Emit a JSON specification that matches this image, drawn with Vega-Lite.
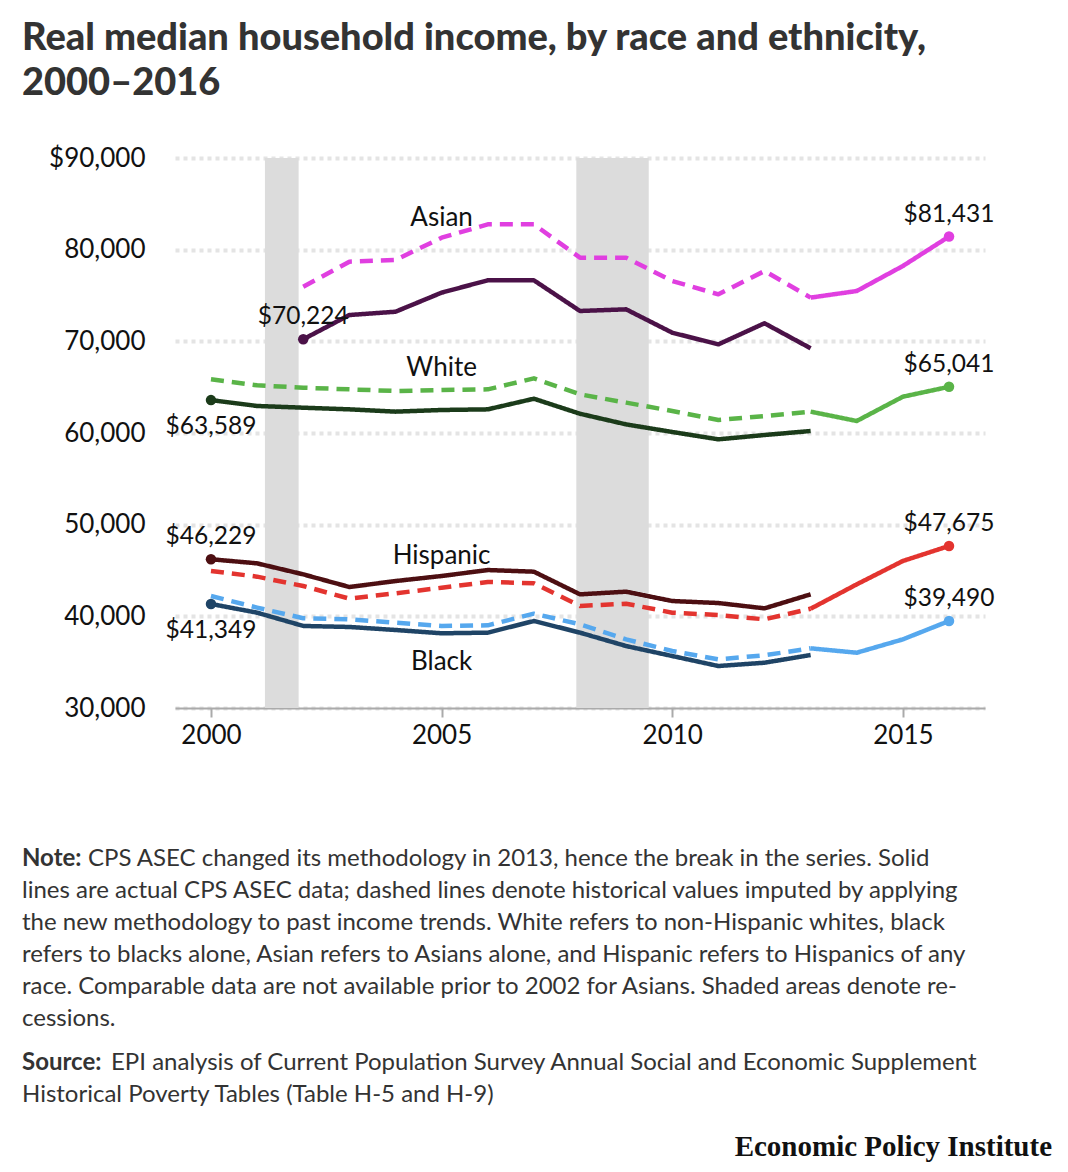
{
  "$schema": "https://vega.github.io/schema/vega-lite/v6.json",
  "padding": {"left": 22, "top": 20, "right": 10, "bottom": 10},
  "bounds": "flush",
  "spacing": 151,
  "title": {
    "text": ["Real median household income, by race and ethnicity,", "2000–2016"],
    "anchor": "start",
    "font": "Lato",
    "fontSize": 38,
    "fontWeight": 900,
    "color": "#333333",
    "lineHeight": 45,
    "offset": 42
  },
  "datasets": {
    "income": [
      {"series": "Asian actual", "kind": "actual", "year": 2002, "value": 70224},
      {"series": "Asian actual", "kind": "actual", "year": 2003, "value": 72870},
      {"series": "Asian actual", "kind": "actual", "year": 2004, "value": 73230},
      {"series": "Asian actual", "kind": "actual", "year": 2005, "value": 75310},
      {"series": "Asian actual", "kind": "actual", "year": 2006, "value": 76660},
      {"series": "Asian actual", "kind": "actual", "year": 2007, "value": 76660},
      {"series": "Asian actual", "kind": "actual", "year": 2008, "value": 73310},
      {"series": "Asian actual", "kind": "actual", "year": 2009, "value": 73490},
      {"series": "Asian actual", "kind": "actual", "year": 2010, "value": 70940},
      {"series": "Asian actual", "kind": "actual", "year": 2011, "value": 69670},
      {"series": "Asian actual", "kind": "actual", "year": 2012, "value": 71970},
      {"series": "Asian actual", "kind": "actual", "year": 2013, "value": 69240},
      {"series": "Asian imputed", "kind": "imputed", "year": 2002, "value": 75960},
      {"series": "Asian imputed", "kind": "imputed", "year": 2003, "value": 78690},
      {"series": "Asian imputed", "kind": "imputed", "year": 2004, "value": 78870},
      {"series": "Asian imputed", "kind": "imputed", "year": 2005, "value": 81310},
      {"series": "Asian imputed", "kind": "imputed", "year": 2006, "value": 82760},
      {"series": "Asian imputed", "kind": "imputed", "year": 2007, "value": 82760},
      {"series": "Asian imputed", "kind": "imputed", "year": 2008, "value": 79130},
      {"series": "Asian imputed", "kind": "imputed", "year": 2009, "value": 79130},
      {"series": "Asian imputed", "kind": "imputed", "year": 2010, "value": 76580},
      {"series": "Asian imputed", "kind": "imputed", "year": 2011, "value": 75130},
      {"series": "Asian imputed", "kind": "imputed", "year": 2012, "value": 77670},
      {"series": "Asian imputed", "kind": "imputed", "year": 2013, "value": 74770},
      {"series": "Asian new", "kind": "new", "year": 2013, "value": 74770},
      {"series": "Asian new", "kind": "new", "year": 2014, "value": 75490},
      {"series": "Asian new", "kind": "new", "year": 2015, "value": 78220},
      {"series": "Asian new", "kind": "new", "year": 2016, "value": 81431},
      {"series": "White actual", "kind": "actual", "year": 2000, "value": 63589},
      {"series": "White actual", "kind": "actual", "year": 2001, "value": 62950},
      {"series": "White actual", "kind": "actual", "year": 2002, "value": 62760},
      {"series": "White actual", "kind": "actual", "year": 2003, "value": 62580},
      {"series": "White actual", "kind": "actual", "year": 2004, "value": 62330},
      {"series": "White actual", "kind": "actual", "year": 2005, "value": 62510},
      {"series": "White actual", "kind": "actual", "year": 2006, "value": 62580},
      {"series": "White actual", "kind": "actual", "year": 2007, "value": 63740},
      {"series": "White actual", "kind": "actual", "year": 2008, "value": 62100},
      {"series": "White actual", "kind": "actual", "year": 2009, "value": 60940},
      {"series": "White actual", "kind": "actual", "year": 2010, "value": 60110},
      {"series": "White actual", "kind": "actual", "year": 2011, "value": 59310},
      {"series": "White actual", "kind": "actual", "year": 2012, "value": 59780},
      {"series": "White actual", "kind": "actual", "year": 2013, "value": 60220},
      {"series": "White imputed", "kind": "imputed", "year": 2000, "value": 65860},
      {"series": "White imputed", "kind": "imputed", "year": 2001, "value": 65200},
      {"series": "White imputed", "kind": "imputed", "year": 2002, "value": 64940},
      {"series": "White imputed", "kind": "imputed", "year": 2003, "value": 64760},
      {"series": "White imputed", "kind": "imputed", "year": 2004, "value": 64580},
      {"series": "White imputed", "kind": "imputed", "year": 2005, "value": 64690},
      {"series": "White imputed", "kind": "imputed", "year": 2006, "value": 64760},
      {"series": "White imputed", "kind": "imputed", "year": 2007, "value": 65960},
      {"series": "White imputed", "kind": "imputed", "year": 2008, "value": 64220},
      {"series": "White imputed", "kind": "imputed", "year": 2009, "value": 63310},
      {"series": "White imputed", "kind": "imputed", "year": 2010, "value": 62400},
      {"series": "White imputed", "kind": "imputed", "year": 2011, "value": 61420},
      {"series": "White imputed", "kind": "imputed", "year": 2012, "value": 61850},
      {"series": "White imputed", "kind": "imputed", "year": 2013, "value": 62330},
      {"series": "White new", "kind": "new", "year": 2013, "value": 62330},
      {"series": "White new", "kind": "new", "year": 2014, "value": 61310},
      {"series": "White new", "kind": "new", "year": 2015, "value": 63960},
      {"series": "White new", "kind": "new", "year": 2016, "value": 65041},
      {"series": "Hispanic actual", "kind": "actual", "year": 2000, "value": 46229},
      {"series": "Hispanic actual", "kind": "actual", "year": 2001, "value": 45780},
      {"series": "Hispanic actual", "kind": "actual", "year": 2002, "value": 44580},
      {"series": "Hispanic actual", "kind": "actual", "year": 2003, "value": 43200},
      {"series": "Hispanic actual", "kind": "actual", "year": 2004, "value": 43850},
      {"series": "Hispanic actual", "kind": "actual", "year": 2005, "value": 44400},
      {"series": "Hispanic actual", "kind": "actual", "year": 2006, "value": 45050},
      {"series": "Hispanic actual", "kind": "actual", "year": 2007, "value": 44870},
      {"series": "Hispanic actual", "kind": "actual", "year": 2008, "value": 42400},
      {"series": "Hispanic actual", "kind": "actual", "year": 2009, "value": 42690},
      {"series": "Hispanic actual", "kind": "actual", "year": 2010, "value": 41670},
      {"series": "Hispanic actual", "kind": "actual", "year": 2011, "value": 41450},
      {"series": "Hispanic actual", "kind": "actual", "year": 2012, "value": 40870},
      {"series": "Hispanic actual", "kind": "actual", "year": 2013, "value": 42400},
      {"series": "Hispanic imputed", "kind": "imputed", "year": 2000, "value": 44950},
      {"series": "Hispanic imputed", "kind": "imputed", "year": 2001, "value": 44330},
      {"series": "Hispanic imputed", "kind": "imputed", "year": 2002, "value": 43310},
      {"series": "Hispanic imputed", "kind": "imputed", "year": 2003, "value": 41930},
      {"series": "Hispanic imputed", "kind": "imputed", "year": 2004, "value": 42510},
      {"series": "Hispanic imputed", "kind": "imputed", "year": 2005, "value": 43120},
      {"series": "Hispanic imputed", "kind": "imputed", "year": 2006, "value": 43750},
      {"series": "Hispanic imputed", "kind": "imputed", "year": 2007, "value": 43600},
      {"series": "Hispanic imputed", "kind": "imputed", "year": 2008, "value": 41130},
      {"series": "Hispanic imputed", "kind": "imputed", "year": 2009, "value": 41380},
      {"series": "Hispanic imputed", "kind": "imputed", "year": 2010, "value": 40400},
      {"series": "Hispanic imputed", "kind": "imputed", "year": 2011, "value": 40150},
      {"series": "Hispanic imputed", "kind": "imputed", "year": 2012, "value": 39670},
      {"series": "Hispanic imputed", "kind": "imputed", "year": 2013, "value": 40830},
      {"series": "Hispanic new", "kind": "new", "year": 2013, "value": 40830},
      {"series": "Hispanic new", "kind": "new", "year": 2014, "value": 43490},
      {"series": "Hispanic new", "kind": "new", "year": 2015, "value": 46040},
      {"series": "Hispanic new", "kind": "new", "year": 2016, "value": 47675},
      {"series": "Black actual", "kind": "actual", "year": 2000, "value": 41349},
      {"series": "Black actual", "kind": "actual", "year": 2001, "value": 40400},
      {"series": "Black actual", "kind": "actual", "year": 2002, "value": 38950},
      {"series": "Black actual", "kind": "actual", "year": 2003, "value": 38840},
      {"series": "Black actual", "kind": "actual", "year": 2004, "value": 38510},
      {"series": "Black actual", "kind": "actual", "year": 2005, "value": 38150},
      {"series": "Black actual", "kind": "actual", "year": 2006, "value": 38220},
      {"series": "Black actual", "kind": "actual", "year": 2007, "value": 39490},
      {"series": "Black actual", "kind": "actual", "year": 2008, "value": 38220},
      {"series": "Black actual", "kind": "actual", "year": 2009, "value": 36760},
      {"series": "Black actual", "kind": "actual", "year": 2010, "value": 35670},
      {"series": "Black actual", "kind": "actual", "year": 2011, "value": 34580},
      {"series": "Black actual", "kind": "actual", "year": 2012, "value": 34940},
      {"series": "Black actual", "kind": "actual", "year": 2013, "value": 35780},
      {"series": "Black imputed", "kind": "imputed", "year": 2000, "value": 42220},
      {"series": "Black imputed", "kind": "imputed", "year": 2001, "value": 40950},
      {"series": "Black imputed", "kind": "imputed", "year": 2002, "value": 39790},
      {"series": "Black imputed", "kind": "imputed", "year": 2003, "value": 39670},
      {"series": "Black imputed", "kind": "imputed", "year": 2004, "value": 39310},
      {"series": "Black imputed", "kind": "imputed", "year": 2005, "value": 38950},
      {"series": "Black imputed", "kind": "imputed", "year": 2006, "value": 39020},
      {"series": "Black imputed", "kind": "imputed", "year": 2007, "value": 40290},
      {"series": "Black imputed", "kind": "imputed", "year": 2008, "value": 39130},
      {"series": "Black imputed", "kind": "imputed", "year": 2009, "value": 37490},
      {"series": "Black imputed", "kind": "imputed", "year": 2010, "value": 36220},
      {"series": "Black imputed", "kind": "imputed", "year": 2011, "value": 35310},
      {"series": "Black imputed", "kind": "imputed", "year": 2012, "value": 35750},
      {"series": "Black imputed", "kind": "imputed", "year": 2013, "value": 36510},
      {"series": "Black new", "kind": "new", "year": 2013, "value": 36510},
      {"series": "Black new", "kind": "new", "year": 2014, "value": 36030},
      {"series": "Black new", "kind": "new", "year": 2015, "value": 37490},
      {"series": "Black new", "kind": "new", "year": 2016, "value": 39490}
    ],
    "recessions": [
      {"start": 2001.17, "end": 2001.9},
      {"start": 2007.92, "end": 2009.49}
    ],
    "raceLabels": [
      {"race": "Asian", "year": 2005, "value": 83450},
      {"race": "White", "year": 2005, "value": 67090},
      {"race": "Hispanic", "year": 2005, "value": 46580},
      {"race": "Black", "year": 2005, "value": 35020}
    ],
    "notes": [
      {"part": "noteLead", "line": 1, "text": "Note:"},
      {"part": "noteFirst", "line": 1, "text": "CPS ASEC changed its methodology in 2013, hence the break in the series. Solid"},
      {"part": "note", "line": 2, "text": "lines are actual CPS ASEC data; dashed lines denote historical values imputed by applying"},
      {"part": "note", "line": 3, "text": "the new methodology to past income trends. White refers to non-Hispanic whites, black"},
      {"part": "note", "line": 4, "text": "refers to blacks alone, Asian refers to Asians alone, and Hispanic refers to Hispanics of any"},
      {"part": "note", "line": 5, "text": "race. Comparable data are not available prior to 2002 for Asians. Shaded areas denote re-"},
      {"part": "note", "line": 6, "text": "cessions."},
      {"part": "sourceLead", "line": 7, "text": "Source:"},
      {"part": "sourceFirst", "line": 7, "text": "EPI analysis of Current Population Survey Annual Social and Economic Supplement"},
      {"part": "source", "line": 8, "text": "Historical Poverty Tables (Table H-5 and H-9)"},
      {"part": "brand", "line": 10, "text": "Economic Policy Institute"}
    ]
  },
  "vconcat": [
    {
      "width": 810,
      "height": 550,
      "layer": [
        {
          "data": {"name": "recessions"},
          "mark": {"type": "rect", "color": "#dcdcdc"},
          "encoding": {
            "x": {"field": "start", "type": "quantitative",
              "scale": {"domain": [1999.22, 2016.78], "nice": false, "zero": false},
              "axis": {"values": [2000, 2005, 2010, 2015], "format": "d", "title": null, "grid": false,
                "domainColor": "#aaaaaa", "domainWidth": 2, "tickColor": "#aaaaaa", "tickWidth": 2, "tickSize": 9,
                "labelFontSize": 26, "labelColor": "#111111", "labelFont": "Lato", "labelPadding": 5}},
            "x2": {"field": "end"},
            "y": {"datum": 30000, "type": "quantitative",
              "scale": {"domain": [30000, 90000], "nice": false, "zero": false},
              "axis": {"values": [30000, 40000, 50000, 60000, 70000, 80000, 90000],
                "labelExpr": "datum.value == 90000 ? '$90,000' : format(datum.value, ',')",
                "title": null, "domain": false, "ticks": false, "tickSize": 0, "labelPadding": 30,
                "labelFontSize": 26, "labelColor": "#111111", "labelFont": "Lato",
                "grid": true, "gridColor": "#e4e4e4", "gridWidth": 4, "gridDash": [4, 4]}},
            "y2": {"datum": 90000}
          }
        },
        {
          "data": {"name": "income"},
          "mark": {"type": "line", "strokeWidth": 4.5, "strokeJoin": "round"},
          "encoding": {
            "x": {"field": "year", "type": "quantitative", "scale": {"domain": [1999.22, 2016.78], "nice": false, "zero": false}},
            "y": {"field": "value", "type": "quantitative", "scale": {"domain": [30000, 90000], "nice": false, "zero": false}},
            "color": {"field": "series", "type": "nominal", "legend": null,
              "scale": {
                "domain": ["Asian actual", "Asian imputed", "Asian new", "White actual", "White imputed", "White new", "Hispanic actual", "Hispanic imputed", "Hispanic new", "Black actual", "Black imputed", "Black new"],
                "range": ["#4b1248", "#e03fe0", "#e03fe0", "#1b3b1a", "#5ab448", "#5ab448", "#4d0f12", "#e3342f", "#e3342f", "#1f4466", "#56a8ee", "#56a8ee"]}},
            "strokeDash": {"field": "kind", "type": "nominal", "legend": null,
              "scale": {"domain": ["actual", "imputed", "new"], "range": [[1, 0], [13, 8], [1, 0]]}}
          }
        },
        {
          "data": {"name": "income"},
          "transform": [{"filter": "(datum.kind == 'actual' && (datum.year == 2000 || (datum.series == 'Asian actual' && datum.year == 2002))) || (datum.kind == 'new' && datum.year == 2016)"}],
          "mark": {"type": "point", "filled": true, "opacity": 1, "size": 110},
          "encoding": {
            "x": {"field": "year", "type": "quantitative", "scale": {"domain": [1999.22, 2016.78], "nice": false, "zero": false}},
            "y": {"field": "value", "type": "quantitative", "scale": {"domain": [30000, 90000], "nice": false, "zero": false}},
            "color": {"field": "series", "type": "nominal", "legend": null}
          }
        },
        {
          "data": {"name": "income"},
          "transform": [{"filter": "(datum.series == 'Asian actual' && datum.year == 2002) || (datum.series == 'Hispanic actual' && datum.year == 2000) || (datum.kind == 'new' && datum.year == 2016)"}],
          "mark": {"type": "text", "font": "Lato", "fontSize": 24.5, "color": "#111111", "baseline": "middle", "dy": -22},
          "encoding": {
            "x": {"field": "year", "type": "quantitative", "scale": {"domain": [1999.22, 2016.78], "nice": false, "zero": false}},
            "y": {"field": "value", "type": "quantitative", "scale": {"domain": [30000, 90000], "nice": false, "zero": false}},
            "text": {"field": "value", "type": "quantitative", "format": "$,"}
          }
        },
        {
          "data": {"name": "income"},
          "transform": [{"filter": "(datum.series == 'White actual' || datum.series == 'Black actual') && datum.year == 2000"}],
          "mark": {"type": "text", "font": "Lato", "fontSize": 24.5, "color": "#111111", "baseline": "middle", "dy": 27},
          "encoding": {
            "x": {"field": "year", "type": "quantitative", "scale": {"domain": [1999.22, 2016.78], "nice": false, "zero": false}},
            "y": {"field": "value", "type": "quantitative", "scale": {"domain": [30000, 90000], "nice": false, "zero": false}},
            "text": {"field": "value", "type": "quantitative", "format": "$,"}
          }
        },
        {
          "data": {"name": "raceLabels"},
          "mark": {"type": "text", "font": "Lato", "fontSize": 26, "color": "#111111", "baseline": "middle"},
          "encoding": {
            "x": {"field": "year", "type": "quantitative", "scale": {"domain": [1999.22, 2016.78], "nice": false, "zero": false}},
            "y": {"field": "value", "type": "quantitative", "scale": {"domain": [30000, 90000], "nice": false, "zero": false}},
            "text": {"field": "race", "type": "nominal"}
          }
        }
      ]
    },
    {
      "width": 810,
      "height": 288,
      "data": {"name": "notes"},
      "encoding": {
        "y": {"field": "line", "type": "quantitative", "scale": {"domain": [1, 10], "reverse": true, "nice": false, "zero": false}, "axis": null},
        "x": {"value": 0},
        "text": {"field": "text", "type": "nominal"}
      },
      "layer": [
        {"transform": [{"filter": "datum.part == 'noteLead'"}],
         "mark": {"type": "text", "align": "left", "baseline": "middle", "font": "Lato", "fontSize": 24, "fontWeight": "bold", "color": "#333333", "dx": -153}},
        {"transform": [{"filter": "datum.part == 'noteFirst'"}],
         "mark": {"type": "text", "align": "left", "baseline": "middle", "font": "Lato", "fontSize": 24, "color": "#333333", "dx": -87}},
        {"transform": [{"filter": "datum.part == 'note'"}],
         "mark": {"type": "text", "align": "left", "baseline": "middle", "font": "Lato", "fontSize": 24, "color": "#333333", "dx": -153}},
        {"transform": [{"filter": "datum.part == 'sourceLead'"}],
         "mark": {"type": "text", "align": "left", "baseline": "middle", "font": "Lato", "fontSize": 24, "fontWeight": "bold", "color": "#333333", "dx": -153, "dy": 12}},
        {"transform": [{"filter": "datum.part == 'sourceFirst'"}],
         "mark": {"type": "text", "align": "left", "baseline": "middle", "font": "Lato", "fontSize": 24, "color": "#333333", "dx": -64, "dy": 12}},
        {"transform": [{"filter": "datum.part == 'source'"}],
         "mark": {"type": "text", "align": "left", "baseline": "middle", "font": "Lato", "fontSize": 24, "color": "#333333", "dx": -153, "dy": 12}},
        {"transform": [{"filter": "datum.part == 'brand'"}],
         "mark": {"type": "text", "align": "right", "baseline": "middle", "font": "Liberation Serif", "fontSize": 29, "fontWeight": "bold", "color": "#111111", "dx": 877}}
      ]
    }
  ],
  "config": {
    "view": {"stroke": null},
    "font": "Lato"
  }
}
